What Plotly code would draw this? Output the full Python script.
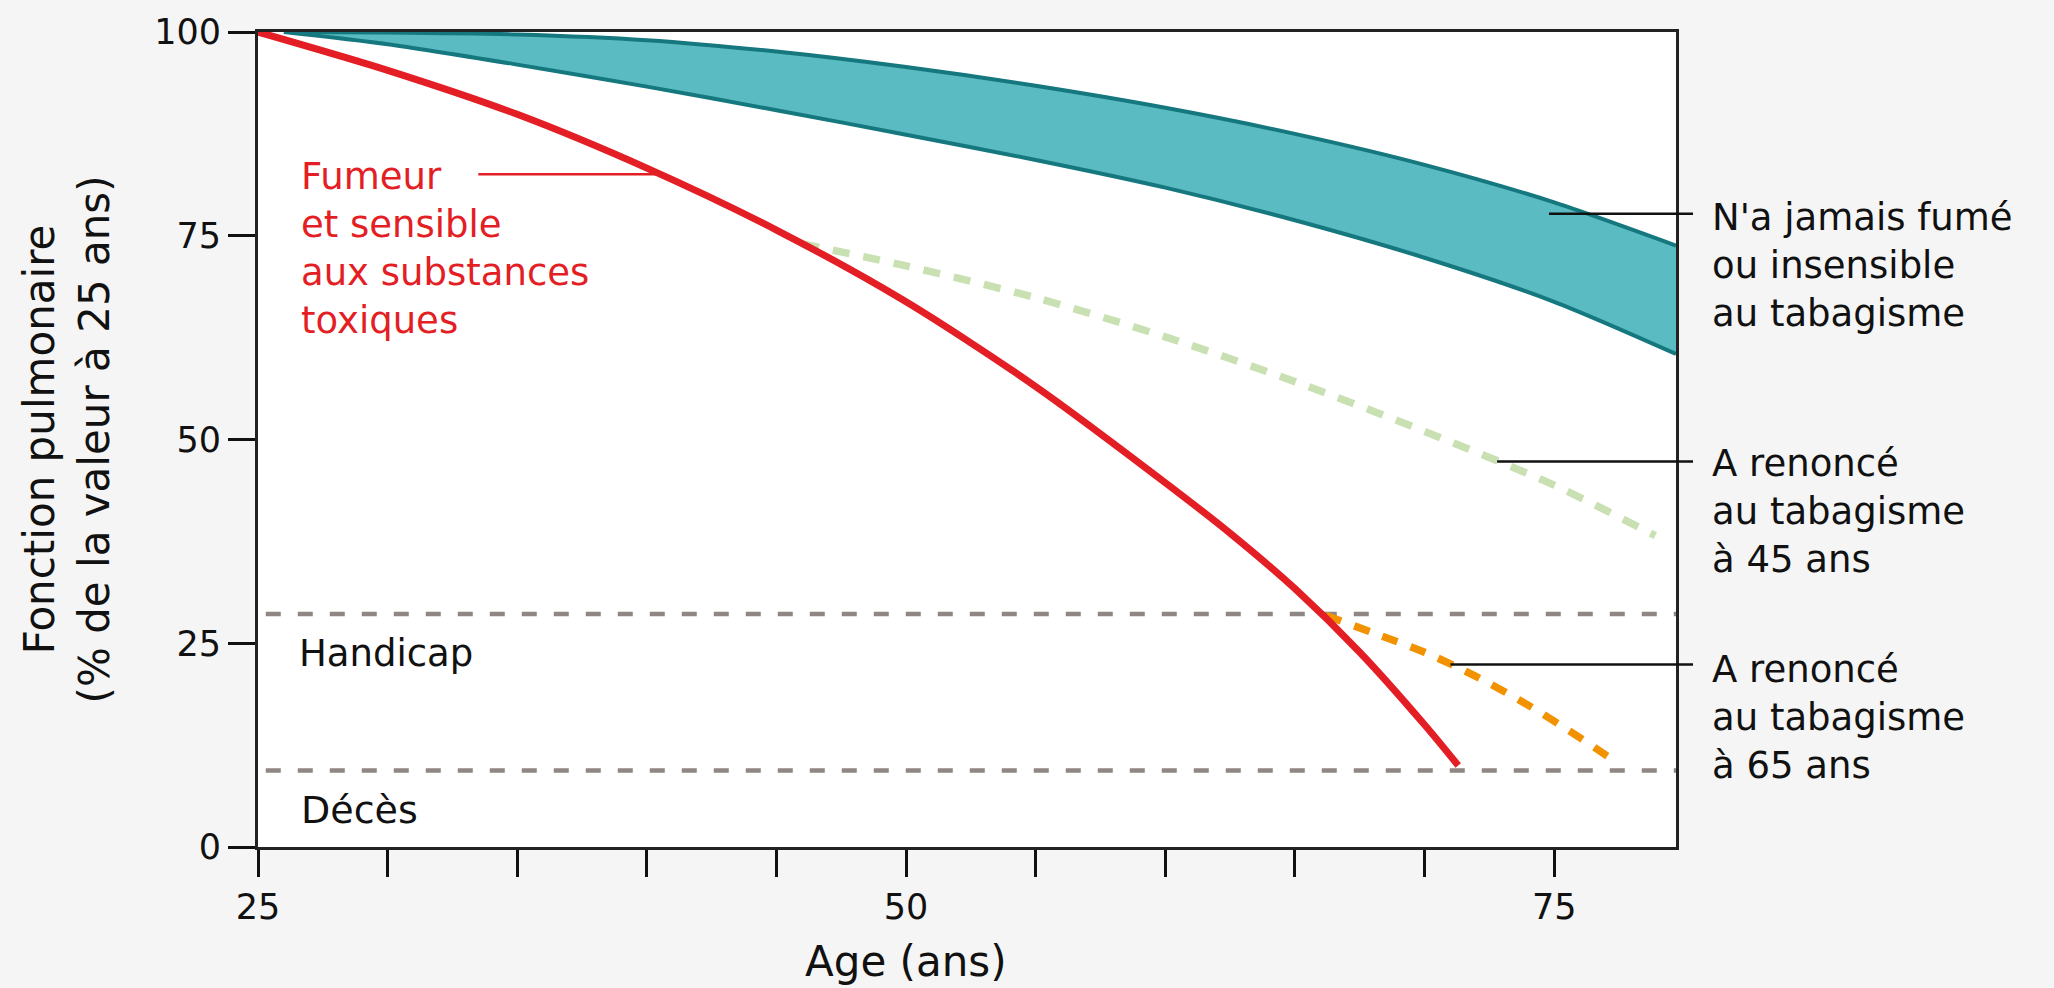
import numpy as np
import plotly.graph_objects as go

# ---------------- data ----------------
band_age = [26, 30, 35, 40, 45, 50, 55, 60, 65, 70, 75, 79.7]
band_upper = [100, 99.95, 99.7, 99.0, 97.6, 95.7, 93.4, 90.7, 87.5, 83.7, 79.1, 73.8]
band_lower = [100, 98.5, 96.0, 93.3, 90.4, 87.4, 84.3, 80.9, 76.9, 72.3, 66.9, 60.5]

smoker_age = [25, 30, 35, 40, 45, 50, 55, 60, 62.5, 65, 67.5, 70, 71.3]
smoker_val = [100, 95.3, 89.9, 83.3, 75.7, 66.9, 56.5, 44.7, 38.5, 31.7, 23.9, 15.0, 10.0]

quit45_age = [46, 50, 55, 60, 65, 70, 75, 78.9]
quit45_val = [74.0, 71.3, 67.4, 62.6, 57.1, 51.0, 44.4, 38.2]

quit65_age = [66.2, 68, 70, 72, 74, 76, 77.3]
quit65_val = [28.4, 26.3, 23.9, 20.9, 17.4, 13.4, 10.6]

threshold_names = ["Handicap", "Décès"]
threshold_vals = [28.6, 9.4]

x_tickvals = [25, 30, 35, 40, 45, 50, 55, 60, 65, 70, 75]
x_ticktext = ["25", "", "", "", "", "50", "", "", "", "", "75"]
y_tickvals = [0, 25, 50, 75, 100]
y_ticktext = ["0", "25", "50", "75", "100"]

X_RANGE = [25, 79.7]
FONT = "DejaVu Sans"

RED = "#E31E24"
TEAL_FILL = "#5ABBC2"
TEAL_EDGE = "#16787F"
GREEN = "#C9E1B2"
ORANGE = "#F39200"
GRAY = "#8E8783"
INK = "#111111"

fig = go.Figure()

# band (never smoked)
fig.add_trace(go.Scatter(x=band_age, y=band_lower, mode="lines",
                         line=dict(color=TEAL_EDGE, width=4, shape="spline", smoothing=0.8),
                         showlegend=False, hoverinfo="skip"))
fig.add_trace(go.Scatter(x=band_age, y=band_upper, mode="lines",
                         line=dict(color=TEAL_EDGE, width=4, shape="spline", smoothing=0.8),
                         fill="tonexty", fillcolor=TEAL_FILL, showlegend=False, hoverinfo="skip"))

# thresholds
for v in threshold_vals:
    fig.add_trace(go.Scatter(x=[25.3, X_RANGE[1]], y=[v, v], mode="lines",
                             line=dict(color=GRAY, width=4.5, dash="15px,17px"),
                             showlegend=False, hoverinfo="skip"))

# quit curves
fig.add_trace(go.Scatter(x=quit45_age, y=quit45_val, mode="lines",
                         line=dict(color=GREEN, width=7.5, dash="17px,14px", shape="spline", smoothing=0.8),
                         showlegend=False, hoverinfo="skip"))
fig.add_trace(go.Scatter(x=quit65_age, y=quit65_val, mode="lines",
                         line=dict(color=ORANGE, width=7.5, dash="16px,14px", shape="spline", smoothing=0.8),
                         showlegend=False, hoverinfo="skip"))
# smoker
fig.add_trace(go.Scatter(x=smoker_age, y=smoker_val, mode="lines",
                         line=dict(color=RED, width=7, shape="spline", smoothing=0.8),
                         showlegend=False, hoverinfo="skip"))


def to_paper(age):
    return (age - X_RANGE[0]) / (X_RANGE[1] - X_RANGE[0])


# leader lines
leader_end_paper = 1.012
right_leaders = [
    (74.8, 77.7),
    (72.8, float(np.interp(72.8, quit45_age, quit45_val))),
    (71.0, float(np.interp(71.0, quit65_age, quit65_val))),
]
for a, v in right_leaders:
    fig.add_shape(type="line", xref="paper", yref="y", x0=to_paper(a), x1=leader_end_paper, y0=v, y1=v,
                  line=dict(color=INK, width=2.5), layer="above")

fumeur_anchor_age = 40.5
fumeur_y = float(np.interp(fumeur_anchor_age, smoker_age, smoker_val))
fig.add_shape(type="line", xref="x", yref="y", x0=33.5, x1=fumeur_anchor_age, y0=fumeur_y, y1=fumeur_y,
              line=dict(color=RED, width=2.5), layer="above")

# annotations
fig.add_annotation(x=26.6, y=73.4, xref="x", yref="y", xanchor="left", yanchor="middle", align="left",
                   text="Fumeur<br>et sensible<br>aux substances<br>toxiques", showarrow=False,
                   font=dict(family=FONT, size=37, color=RED))

right_x = 1.024
right_blocks = [
    (71.4, "N'a jamais fumé<br>ou insensible<br>au tabagisme"),
    (41.2, "A renoncé<br>au tabagisme<br>à 45 ans"),
    (15.9, "A renoncé<br>au tabagisme<br>à 65 ans"),
]
for yv, txt in right_blocks:
    fig.add_annotation(x=right_x, y=yv, xref="paper", yref="y", xanchor="left", yanchor="middle", align="left",
                       text=txt, showarrow=False, font=dict(family=FONT, size=37, color=INK))

fig.add_annotation(x=26.5, y=23.8, xref="x", yref="y", xanchor="left", yanchor="middle",
                   text=threshold_names[0], showarrow=False, font=dict(family=FONT, size=37, color=INK))
fig.add_annotation(x=26.6, y=4.6, xref="x", yref="y", xanchor="left", yanchor="middle",
                   text=threshold_names[1], showarrow=False, font=dict(family=FONT, size=38, color=INK))

# axis titles
fig.add_annotation(x=50, y=-0.140, xref="x", yref="paper", xanchor="center", yanchor="middle",
                   text="Age (ans)", showarrow=False, font=dict(family=FONT, size=42, color=INK))
fig.add_annotation(x=-0.1347, y=0.5, xref="paper", yref="paper", xanchor="center", yanchor="middle",
                   text="Fonction pulmonaire<br>(% de la valeur à 25 ans)", textangle=-90, showarrow=False,
                   font=dict(family=FONT, size=42, color=INK))

fig.update_xaxes(range=X_RANGE, tickvals=x_tickvals, ticktext=x_ticktext, ticks="outside", ticklen=27,
                 tickwidth=2.5, tickcolor=INK, showline=True, linecolor="#222222", linewidth=3,
                 mirror=True, showgrid=False, zeroline=False,
                 tickfont=dict(family=FONT, size=35, color=INK))
fig.update_yaxes(range=[0, 100], tickvals=y_tickvals, ticktext=y_ticktext, ticks="outside", ticklen=27,
                 tickwidth=2.5, tickcolor=INK, showline=True, linecolor="#222222", linewidth=3,
                 mirror=True, showgrid=False, zeroline=False,
                 tickfont=dict(family=FONT, size=35, color=INK))

fig.update_layout(width=2054, height=988, margin=dict(l=258, r=378, t=25, b=141),
                  paper_bgcolor="#F5F5F5", plot_bgcolor="white", showlegend=False)

fig.write_html("out.html", config={"displayModeBar": False},
               post_script="document.body.style.margin='0';document.body.style.padding='0';"
                           "document.body.style.overflow='hidden';")
